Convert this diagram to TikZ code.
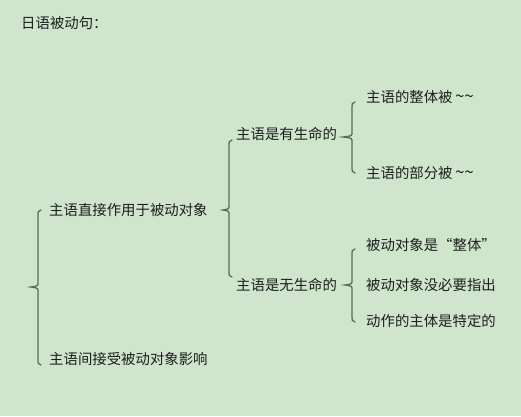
\documentclass[tikz,border=0pt]{standalone}
\usepackage{fontspec}
\setmainfont{Noto Sans CJK SC}
\definecolor{bg}{RGB}{207,230,205}
\definecolor{brc}{RGB}{88,108,86}
\definecolor{txt}{RGB}{30,30,30}
% brace: #1 tip x, #2 vertical x, #3 end x, #4 top y, #5 mid y, #6 bottom y
\newcommand\mybrace[6]{%
  \draw[br] (#3,#4) .. controls (#2,#4) and (#2,#4+2) .. (#2,#4+7)
    -- (#2,#5-5) .. controls (#2,#5-1) .. (#1,#5)
    .. controls (#2,#5+1) .. (#2,#5+5)
    -- (#2,#6-7) .. controls (#2,#6-2) and (#2,#6) .. (#3,#6);}
\newcommand\tildes{\,{\fontsize{17}{16}\selectfont\textasciitilde\textasciitilde}}
\begin{document}
\begin{tikzpicture}[x=1pt,y=-1pt,
  lbl/.style={anchor=west,inner sep=0pt,font=\fontsize{14.4}{16}\selectfont,text=txt},
  br/.style={draw=brc,line width=1.3pt,line cap=round}]
\fill[bg] (0,0) rectangle (521,416);
\useasboundingbox (0,0) rectangle (521,416);
\node[lbl] (title) at (21,23) {日语被动句：};
\node[lbl] (a1) at (49,210) {主语直接作用于被动对象};
\node[lbl] (a2) at (49,359) {主语间接受被动对象影响};
\node[lbl] (b1) at (236,134) {主语是有生命的};
\node[lbl] (b2) at (236,285) {主语是无生命的};
\node[lbl] (c1) at (366,97) {主语的整体被\tildes};
\node[lbl] (c2) at (366,173) {主语的部分被\tildes};
\node[lbl] (d1) at (366,245) {被动对象是“整体”};
\node[lbl] (d2) at (366,285) {被动对象没必要指出};
\node[lbl] (d3) at (366,321) {动作的主体是特定的};
\mybrace{31}{38}{41}{210}{287}{365}
\mybrace{223}{229}{232}{140}{210}{277}
\mybrace{343}{352}{355}{102}{137}{173}
\mybrace{345}{352}{355}{249}{285}{322}
\end{tikzpicture}
\end{document}
